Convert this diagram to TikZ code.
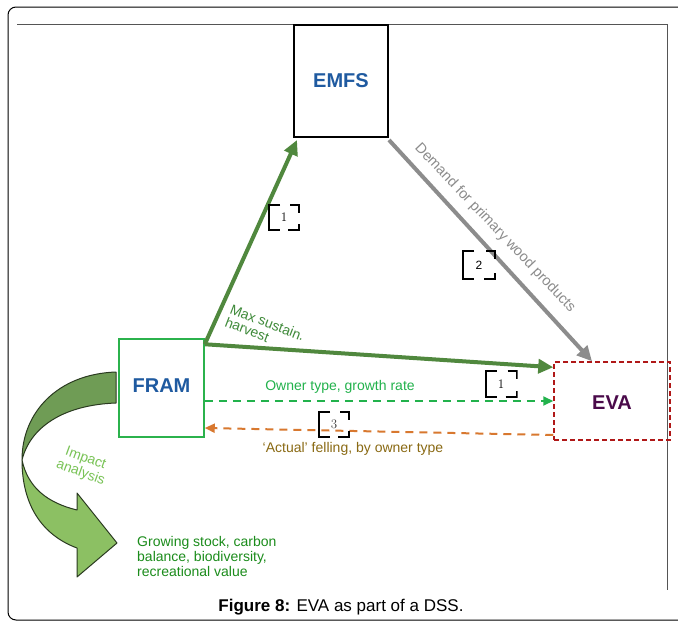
\documentclass[tikz,border=0pt]{standalone}
\usepackage{fontspec}
\setsansfont{Liberation Sans}
\usetikzlibrary{arrows.meta}
\definecolor{darkgreenarrow}{RGB}{80,136,62}
\definecolor{greyarrow}{RGB}{140,140,140}
\definecolor{brightgreen}{RGB}{34,178,76}
\definecolor{orangedash}{RGB}{216,120,47}
\definecolor{feltext}{RGB}{138,106,20}
\definecolor{framborder}{RGB}{43,178,76}
\definecolor{evaborder}{RGB}{176,24,24}
\definecolor{boxblue}{RGB}{31,90,160}
\definecolor{evapurple}{RGB}{74,10,74}
\definecolor{stocktext}{RGB}{27,140,27}
\definecolor{impacttext}{RGB}{121,195,86}
\definecolor{maxtext}{RGB}{63,138,58}
\definecolor{banddark}{RGB}{111,156,85}
\definecolor{bandlight}{RGB}{140,192,99}
\definecolor{bandedge}{RGB}{42,58,32}
\definecolor{framegrey}{RGB}{85,85,85}
\begin{document}
\begin{tikzpicture}[x=1pt,y=-1pt,
  boxtitle/.style={font=\sffamily\bfseries\fontsize{20}{20}\selectfont, inner sep=0pt},
  lbl/.style={font=\sffamily\fontsize{14}{15}\selectfont, inner sep=0pt},
  thickarrow/.style={line width=4pt, -{Triangle[length=15pt,width=14pt]}},
  dasharrow/.style={line width=2pt, dash pattern=on 8pt off 6pt, -{Triangle[length=10pt,width=9pt]}},
  bracketbox/.style={minimum width=32pt, minimum height=27pt, inner sep=0pt,
    font=\fontsize{13}{13}\selectfont,
    path picture={
      \draw[line width=2pt, black]
        ([shift={(12pt,-1pt)}]path picture bounding box.north west) --
        ([shift={(1pt,-1pt)}]path picture bounding box.north west) --
        ([shift={(1pt,1pt)}]path picture bounding box.south west) --
        ([shift={(12pt,1pt)}]path picture bounding box.south west);
      \draw[line width=2pt, black]
        ([shift={(-10pt,-1pt)}]path picture bounding box.north east) --
        ([shift={(-1pt,-1pt)}]path picture bounding box.north east) --
        ([shift={(-1pt,-9pt)}]path picture bounding box.north east);
      \draw[line width=2pt, black]
        ([shift={(-12pt,1pt)}]path picture bounding box.south east) --
        ([shift={(-1pt,1pt)}]path picture bounding box.south east) --
        ([shift={(-1pt,7pt)}]path picture bounding box.south east);
    }}
]
\useasboundingbox (0,0) rectangle (678,621);
\clip (0,0) rectangle (678,621);
\fill[white] (0,0) rectangle (678,621);

% frames
\draw[black, line width=1pt, rounded corners=8pt] (8,7) rectangle (700,620);
\draw[framegrey, line width=1pt] (17,24) -- (667,24) -- (667,590);

% boxes
\node[draw=black, line width=2pt, fill=white, minimum width=94pt, minimum height=112pt, inner sep=0pt] (EMFS) at (341,81) {};
\node[boxtitle, text=boxblue] (EMFSt) at (341,81) {EMFS};
\node[draw=framborder, line width=1.5pt, minimum width=85pt, minimum height=98pt, inner sep=0pt] (FRAM) at (161.5,388) {};
\node[boxtitle, text=boxblue] (FRAMt) at (161.5,386) {FRAM};
\node[draw=evaborder, line width=1.5pt, dash pattern=on 5pt off 3pt, minimum width=116pt, minimum height=78pt, inner sep=0pt] (EVA) at (612,401) {};
\node[boxtitle, text=evapurple] (EVAt) at (612,403) {EVA};

% connectors
\draw[thickarrow, darkgreenarrow] ([yshift=-6pt]FRAM.north east) -- ([xshift=4pt,yshift=-2pt]EMFS.south west);
\draw[thickarrow, darkgreenarrow] ([yshift=-6pt]FRAM.north east) -- ([yshift=-6pt]EVA.north west);
\draw[thickarrow, greyarrow] ([yshift=-2pt]EMFS.south east) -- ([xshift=-20pt]EVA.north);
\draw[dasharrow, brightgreen] (FRAM.east |- EVA.west) -- (EVA.west);
\draw[dasharrow, orangedash] ([yshift=-34pt]EVA.west) -- ([yshift=-40pt]FRAM.east);

% labels
\node[lbl, text=maxtext, rotate=-21, align=left, font=\sffamily\fontsize{14}{14}\selectfont] (maxl) at (265,329) {Max sustain.\\harvest};
\node[lbl, text=greyarrow, rotate=-46.5, font=\sffamily\fontsize{14.5}{15}\selectfont] (demand) at (495,228) {Demand for primary wood products};
\node[lbl, text=brightgreen] (owner) at (340,387) {Owner type, growth rate};
\node[lbl, text=feltext] (felling) at (353,449) {‘Actual’ felling, by owner type};

% markers
\node[bracketbox] (m1a) at (284,217) {1};
\node[bracketbox, minimum width=34pt, minimum height=30pt, font=\sffamily\fontsize{12}{12}\selectfont] (m2) at (479,265) {2};
\node[bracketbox, minimum width=33pt, minimum height=28pt] (m1b) at (501,384) {1};
\node[bracketbox, text=darkgray] (m3) at (334,424) {3};

% impact arrow
\draw[bandedge, line width=1pt, fill=bandlight, line join=round]
  (22,460) .. controls (28,488) and (48,503) .. (77,510) -- (77,493) -- (117,543) -- (77,577) -- (77,548)
  .. controls (42,535) and (22,505) .. (22,460) -- cycle;
\draw[bandedge, line width=1pt, fill=banddark, line join=round]
  (116,372) .. controls (58,374) and (22,412) .. (22,460)
  .. controls (30,428) and (62,405) .. (116,403) -- cycle;
\node[lbl, text=impacttext, rotate=-20, align=center] (impact) at (83,466) {Impact\\analysis};

\node[lbl, text=stocktext, align=left, anchor=north west] (stock) at (137,536) {Growing stock, carbon\\balance, biodiversity,\\recreational value};

% caption
\node[font=\sffamily\fontsize{17}{17}\selectfont, inner sep=0pt] (caption) at (341,607) {\textbf{Figure 8:} EVA as part of a DSS.};
\end{tikzpicture}
\end{document}
